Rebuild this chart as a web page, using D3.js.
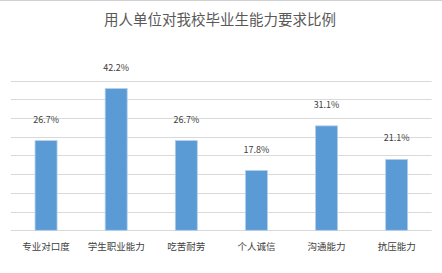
<!DOCTYPE html>
<html><head><meta charset="utf-8">
<script src="https://cdn.jsdelivr.net/npm/d3@7"></script>
<style>body{margin:0;background:#fff}svg{display:block}</style>
</head><body>
<svg id="c" width="442" height="273"></svg>
<script>
const title = "用人单位对我校毕业生能力要求比例";
const categories = ["专业对口度","学生职业能力","吃苦耐劳","个人诚信","沟通能力","抗压能力"];
const values = [26.7, 42.2, 26.7, 17.8, 31.1, 21.1];
const labels = ["26.7%","42.2%","26.7%","17.8%","31.1%","21.1%"];
const yMax = 44.6;
const gridCount = 8;

const svg = d3.select("#c");
const W = 442, H = 273;
const m = {l: 11, r: 10.3, t: 80.5, b: 42.7};
const font = "'Noto Sans CJK SC','Noto Sans',sans-serif";

svg.append("rect").attr("width", W).attr("height", H).attr("fill", "#fff");
svg.append("line").attr("x1",0).attr("x2",W).attr("y1",0.5).attr("y2",0.5).attr("stroke","#d0d0d0");

const x = d3.scaleBand().domain(categories).range([m.l, W - m.r]).paddingInner(0.686).paddingOuter(0.343);
const y = d3.scaleLinear().domain([0, yMax]).range([H - m.b, m.t]);

const ticks = d3.range(0, gridCount + 1).map(i => i * yMax / gridCount);
svg.append("g").selectAll("line").data(ticks).join("line")
  .attr("x1", m.l).attr("x2", W - m.r)
  .attr("y1", d => Math.round(y(d)) + 0.5).attr("y2", d => Math.round(y(d)) + 0.5)
  .attr("stroke", "#d9d9d9").attr("stroke-width", 1);

svg.append("text").attr("x", 220).attr("y", 25).attr("text-anchor", "middle")
  .attr("font-family", font).attr("font-size", 14.5).attr("fill", "#595959").text(title);

svg.append("g").selectAll("rect").data(values).join("rect")
  .attr("x", (d, i) => x(categories[i]))
  .attr("width", x.bandwidth())
  .attr("y", d => y(d))
  .attr("height", d => y(0) - y(d))
  .attr("fill", "#5b9bd5").attr("stroke", "#b4d0ec").attr("stroke-width", 0.8);

svg.append("g").selectAll("text").data(values).join("text")
  .attr("x", (d, i) => x(categories[i]) + x.bandwidth() / 2)
  .attr("y", d => y(d) - 18)
  .attr("text-anchor", "middle")
  .attr("font-family", font).attr("font-size", 9).attr("fill", "#404040")
  .text((d, i) => labels[i]);

svg.append("g").selectAll("text").data(categories).join("text")
  .attr("x", d => x(d) + x.bandwidth() / 2)
  .attr("y", 250)
  .attr("text-anchor", "middle")
  .attr("font-family", font).attr("font-size", 9.5).attr("fill", "#404040")
  .text(d => d);
</script>
</body></html>
